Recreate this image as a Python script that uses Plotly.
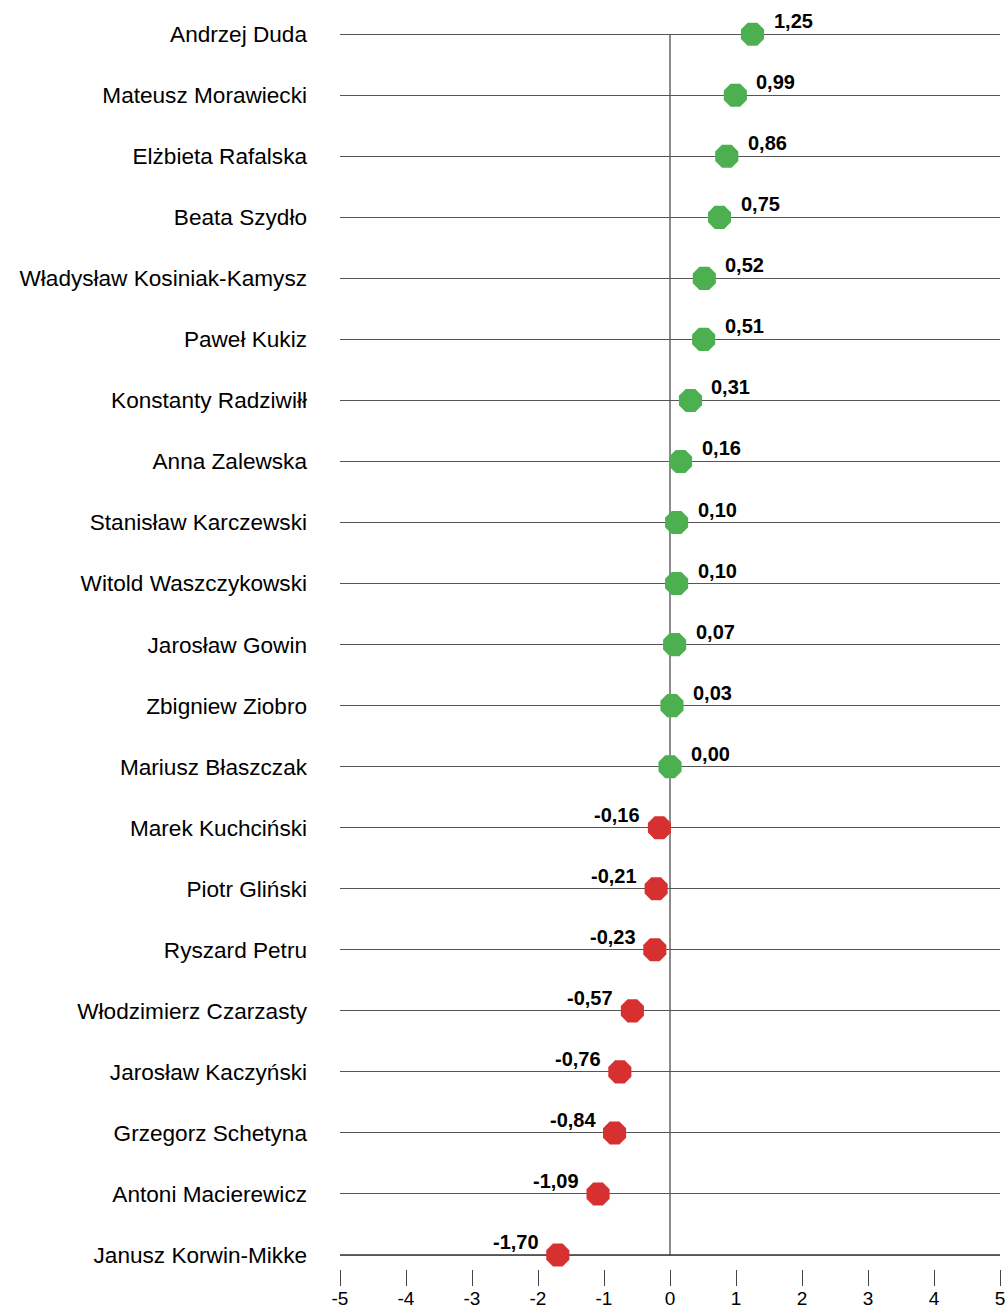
import plotly.graph_objects as go

names = ["Andrzej Duda", "Mateusz Morawiecki", "Elżbieta Rafalska", "Beata Szydło",
         "Władysław Kosiniak-Kamysz", "Paweł Kukiz", "Konstanty Radziwiłł", "Anna Zalewska",
         "Stanisław Karczewski", "Witold Waszczykowski", "Jarosław Gowin", "Zbigniew Ziobro",
         "Mariusz Błaszczak", "Marek Kuchciński", "Piotr Gliński", "Ryszard Petru",
         "Włodzimierz Czarzasty", "Jarosław Kaczyński", "Grzegorz Schetyna",
         "Antoni Macierewicz", "Janusz Korwin-Mikke"]
values = [1.25, 0.99, 0.86, 0.75, 0.52, 0.51, 0.31, 0.16, 0.10, 0.10, 0.07, 0.03, 0.00,
          -0.16, -0.21, -0.23, -0.57, -0.76, -0.84, -1.09, -1.70]
x_ticks = [-5, -4, -3, -2, -1, 0, 1, 2, 3, 4, 5]

GREEN = "#4caf50"
RED = "#d63031"
FONT = "Liberation Sans, Arial, sans-serif"

colors = [GREEN if v >= 0 else RED for v in values]
labels = [f"{v:.2f}".replace(".", ",") for v in values]

fig = go.Figure()
fig.add_trace(go.Scatter(
    x=values, y=names, mode="markers",
    marker=dict(symbol="octagon", size=25, color=colors, line=dict(width=0)),
    cliponaxis=False, showlegend=False, hoverinfo="x+y",
))

annotations = []
for n, v, lab in zip(names, values, labels):
    pos = v >= 0
    annotations.append(dict(
        x=v, y=n, xref="x", yref="y", text=f"<b>{lab}</b>", showarrow=False,
        xanchor="left" if pos else "right", yanchor="middle",
        xshift=19 if pos else -17, yshift=13,
        font=dict(family=FONT, size=20, color="#000000"),
    ))

n_last = len(names) - 1
shapes = [
    dict(type="line", xref="x", yref="y", x0=0, x1=0, y0=0, y1=n_last,
         line=dict(color="#666666", width=1.5), layer="below"),
    dict(type="line", xref="x", yref="y", x0=x_ticks[0], x1=x_ticks[-1], y0=n_last, y1=n_last,
         line=dict(color="#333333", width=1.5), layer="below"),
]

fig.update_layout(
    width=1006, height=1308,
    margin=dict(l=340, r=6, t=22, b=39),
    paper_bgcolor="white", plot_bgcolor="white",
    font=dict(family=FONT, color="#000000"),
    annotations=annotations, shapes=shapes,
    xaxis=dict(
        range=[x_ticks[0], x_ticks[-1]], tickvals=x_ticks, ticktext=[str(t) for t in x_ticks],
        showgrid=False, zeroline=False, showline=False, automargin=False,
        ticks="outside", ticklen=16, tickwidth=1.2, tickcolor="#444444",
        ticklabeloverflow="allow", ticklabelstandoff=-4,
        tickfont=dict(family=FONT, size=19, color="#000000"),
    ),
    yaxis=dict(
        type="category", categoryorder="array", categoryarray=names,
        range=[len(names) - 1 + 0.229, -0.2], automargin=False,
        showgrid=True, gridcolor="#555555", gridwidth=1.2,
        zeroline=False, showline=False, ticks="",
        ticklabelstandoff=32,
        tickfont=dict(family=FONT, size=22.6, color="#000000"),
    ),
)

fig.write_html(
    "out.html",
    config={"displayModeBar": False},
    post_script="document.body.style.margin='0';document.body.style.overflow='hidden';",
)
